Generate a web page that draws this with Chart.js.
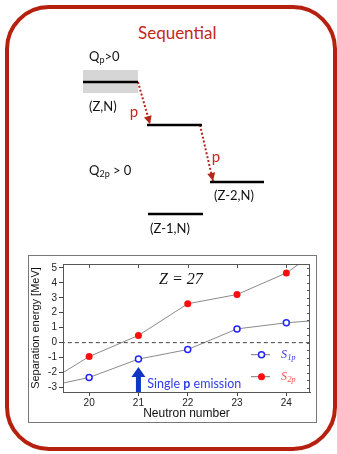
<!DOCTYPE html>
<html>
<head>
<meta charset="utf-8">
<script src="https://cdn.jsdelivr.net/npm/chart.js@4.4.0/dist/chart.umd.min.js"></script>
<style>
  body { margin: 0; background: #fff; width: 337px; height: 454px; overflow: hidden; position: relative; }
  #card { position: absolute; left: 5px; top: 5px; width: 332px; height: 446px; box-sizing: border-box;
          border: 4px solid #b5200f; border-radius: 44px; }
  #title { position: absolute; left: 138px; top: 21px; font: 17px Lato, sans-serif; color: #c0291c; line-height: 24px; }
  #diagram { position: absolute; left: 0; top: 0; }
  #plotBox { position: absolute; left: 28px; top: 255px; width: 287px; height: 166px; border: 1px solid #777; background: #fff; }
  #plotBox canvas { display: block; }
</style>
</head>
<body>
<div id="card"></div>
<div id="title">Sequential</div>
<canvas id="diagram" width="337" height="250"></canvas>
<div id="plotBox"><canvas id="sepChart" width="287" height="166"></canvas></div>

<script>
// --- separation energies of Z = 27 isotopes (MeV)
const neutronNumbers = [19, 20, 21, 22, 23, 24, 25];
const s1pValues = [-3.03, -2.33, -1.1, -0.46, 0.92, 1.33, 1.58];
const s2pValues = [-2.95, -0.93, 0.48, 2.6, 3.22, 4.66, 7.0];
const xTickValues = [20, 21, 22, 23, 24];
const yTickValues = [-3, -2, -1, 0, 1, 2, 3, 4, 5];

// --- schematic level scheme (arbitrary energy units)
const levelStarts = [83, 147, 210, 148];
const levelEnds = [138, 202, 264, 203];
const levelEnergies = [8.4, 6.25, 3.4, 1.8];
const bandRange = [7.85, 9.0];
const decayFrom = [[138, 8.4], [200, 6.25]];
const decayTo = [[150, 6.3], [213, 3.45]];

Chart.defaults.font.family = '"Liberation Sans", Arial, sans-serif';
Chart.defaults.animation = false;

// ---------------- top diagram ----------------
const diagramLabels = [
  { pre: "Q", sub: "p", post: ">0", x: 89, e: 9.65 },
  { pre: "(Z,N)", x: 89, e: 7.15 },
  { pre: "Q", sub: "2p", post: " > 0", x: 89, e: 3.95 },
  { pre: "(Z-2,N)", x: 214, e: 2.73 },
  { pre: "(Z-1,N)", x: 150, e: 1.05 },
];
const protonLabels = [[134, 6.9], [216, 4.65]];

const diagramPlugin = {
  id: "diagramText",
  afterDatasetsDraw(chart) {
    const { ctx, scales: { x, y } } = chart;
    ctx.save();
    // arrow heads
    ctx.fillStyle = "#b3261a";
    decayTo.forEach((to, i) => {
      const x0 = x.getPixelForValue(decayFrom[i][0]), y0 = y.getPixelForValue(decayFrom[i][1]);
      const x1 = x.getPixelForValue(to[0]), y1 = y.getPixelForValue(to[1]);
      const a = Math.atan2(y1 - y0, x1 - x0);
      ctx.beginPath();
      ctx.moveTo(x1, y1);
      ctx.lineTo(x1 - 8 * Math.cos(a) + 4 * Math.sin(a), y1 - 8 * Math.sin(a) - 4 * Math.cos(a));
      ctx.lineTo(x1 - 8 * Math.cos(a) - 4 * Math.sin(a), y1 - 8 * Math.sin(a) + 4 * Math.cos(a));
      ctx.closePath();
      ctx.fill();
    });
    // text labels
    ctx.textBaseline = "middle";
    ctx.textAlign = "left";
    ctx.fillStyle = "#111";
    diagramLabels.forEach(l => {
      let px = x.getPixelForValue(l.x);
      const py = y.getPixelForValue(l.e);
      ctx.font = "13px Lato, sans-serif";
      ctx.fillText(l.pre, px, py);
      px += ctx.measureText(l.pre).width;
      if (l.sub) {
        ctx.font = "9px Lato, sans-serif";
        ctx.fillText(l.sub, px, py + 3);
        px += ctx.measureText(l.sub).width;
        ctx.font = "13px Lato, sans-serif";
        ctx.fillText(l.post, px, py);
      }
    });
    ctx.fillStyle = "#c0291c";
    ctx.font = "15px Lato, sans-serif";
    ctx.textAlign = "center";
    protonLabels.forEach(p => ctx.fillText("p", x.getPixelForValue(p[0]), y.getPixelForValue(p[1])));
    ctx.restore();
  }
};

// datasets are drawn last-to-first, so the band goes at the end (underneath)
const diagramSets = [];
levelEnergies.forEach((e, i) => diagramSets.push({
  data: [{ x: levelStarts[i], y: e }, { x: levelEnds[i], y: e }],
  borderColor: "#000", borderWidth: 2.5
}));
decayFrom.forEach((f, i) => diagramSets.push({
  data: [{ x: f[0], y: f[1] }, { x: decayTo[i][0], y: decayTo[i][1] }],
  borderColor: "#b3261a", borderWidth: 2, borderDash: [2, 2]
}));
diagramSets.push(
  { data: [{ x: levelStarts[0], y: bandRange[1] }, { x: levelEnds[0], y: bandRange[1] }],
    borderWidth: 0, fill: "+1", backgroundColor: "#d6d6d6" },
  { data: [{ x: levelStarts[0], y: bandRange[0] }, { x: levelEnds[0], y: bandRange[0] }],
    borderWidth: 0 }
);

new Chart(document.getElementById("diagram"), {
  type: "scatter",
  data: { datasets: diagramSets.map(d => ({ showLine: true, pointRadius: 0, ...d })) },
  options: {
    responsive: false,
    layout: { padding: 0 },
    plugins: { legend: { display: false }, tooltip: { enabled: false },
               filler: { drawTime: "beforeDatasetsDraw" } },
    scales: {
      x: { type: "linear", min: 0, max: 337, display: false },
      y: { type: "linear", min: 0, max: 12.5, display: false }
    }
  },
  plugins: [diagramPlugin]
});

// ---------------- separation energy chart ----------------
const xMin = 19.47, xMax = 24.48, yMin = -3.3, yMax = 5.26;
const arrowTip = -1.63, arrowHeadBase = -2.29;

const s1pPoints = neutronNumbers.map((n, i) => ({ x: n, y: s1pValues[i] }));
const s2pPoints = neutronNumbers.map((n, i) => ({ x: n, y: s2pValues[i] }));

function drawSubLabel(ctx, px, py, sub, color) {
  ctx.fillStyle = color;
  ctx.font = "italic 12px 'Liberation Serif', serif";
  ctx.fillText("S", px, py);
  const w = ctx.measureText("S").width;
  ctx.font = "italic 8px 'Liberation Serif', serif";
  ctx.fillText(sub, px + w + 0.5, py + 3);
}

const framePlugin = {
  id: "frameExtras",
  afterDatasetsDraw(chart) {
    const { ctx, chartArea: ca, scales: { x, y } } = chart;
    ctx.save();
    // frame and inward ticks
    ctx.strokeStyle = "#555";
    ctx.lineWidth = 1;
    ctx.strokeRect(ca.left + 0.5, ca.top + 0.5, ca.right - ca.left - 1, ca.bottom - ca.top);
    ctx.beginPath();
    xTickValues.forEach(v => {
      const px = Math.round(x.getPixelForValue(v)) + 0.5;
      ctx.moveTo(px, ca.top); ctx.lineTo(px, ca.top + 4);
    });
    for (let v = -3; v <= 5; v += 0.5) {
      const py = Math.round(y.getPixelForValue(v)) + 0.5;
      ctx.moveTo(ca.right, py); ctx.lineTo(ca.right - 3, py);
    }
    ctx.stroke();

    // Z = 27
    ctx.fillStyle = "#111";
    ctx.font = "italic 16px 'Liberation Serif', serif";
    ctx.textBaseline = "alphabetic";
    ctx.fillText("Z = 27", ca.left + 96, ca.top + 20);

    // single-p arrow at N = 21
    const ax = x.getPixelForValue(21);
    const tip = y.getPixelForValue(arrowTip), base = y.getPixelForValue(arrowHeadBase);
    ctx.fillStyle = "#1236c4";
    ctx.beginPath();
    ctx.moveTo(ax, tip);
    ctx.lineTo(ax + 7, base);
    ctx.lineTo(ax + 2.5, base);
    ctx.lineTo(ax + 2.5, ca.bottom);
    ctx.lineTo(ax - 2.5, ca.bottom);
    ctx.lineTo(ax - 2.5, base);
    ctx.lineTo(ax - 7, base);
    ctx.closePath();
    ctx.fill();

    // "Single p emission"
    let tx = x.getPixelForValue(21.18);
    const ty = y.getPixelForValue(-2.75);
    ctx.fillStyle = "#2f3fe6";
    ctx.textBaseline = "middle";
    [["Single ", ""], ["p", "bold "], [" emission", ""]].forEach(([t, w]) => {
      ctx.font = w + "12.5px Lato, sans-serif";
      ctx.fillText(t, tx, ty);
      tx += ctx.measureText(t).width;
    });

    // legend (inside, lower right)
    const rows = [
      { yy: ca.bottom - 37.3, ds: chart.data.datasets[1], sub: "1p", color: "#3535ff" },
      { yy: ca.bottom - 15.3, ds: chart.data.datasets[2], sub: "2p", color: "#ff4a4a" },
    ];
    rows.forEach(r => {
      ctx.strokeStyle = "#777";
      ctx.beginPath();
      ctx.moveTo(ca.right - 59, r.yy); ctx.lineTo(ca.right - 40, r.yy);
      ctx.stroke();
      ctx.beginPath();
      ctx.arc(ca.right - 48.5, r.yy, r.ds.pointRadius, 0, Math.PI * 2);
      ctx.fillStyle = r.ds.pointBackgroundColor;
      ctx.fill();
      ctx.lineWidth = r.ds.pointBorderWidth;
      ctx.strokeStyle = r.ds.pointBorderColor;
      if (r.ds.pointBorderWidth) ctx.stroke();
      ctx.lineWidth = 1;
      drawSubLabel(ctx, ca.right - 29, r.yy, r.sub, r.color);
    });
    ctx.restore();
  }
};

new Chart(document.getElementById("sepChart"), {
  type: "line",
  data: {
    datasets: [
      { data: [{ x: 19, y: 0 }, { x: 25, y: 0 }], borderColor: "#444", borderWidth: 1,
        borderDash: [4, 3], pointRadius: 0 },
      { label: "S1p", data: s1pPoints, borderColor: "#8a8a8a", borderWidth: 1,
        pointRadius: 3, pointBorderWidth: 1.5, pointBorderColor: "#2323ff", pointBackgroundColor: "#fff" },
      { label: "S2p", data: s2pPoints, borderColor: "#8a8a8a", borderWidth: 1,
        pointRadius: 3.5, pointBorderWidth: 0, pointBorderColor: "#ff0d0d", pointBackgroundColor: "#ff0d0d" },
    ]
  },
  options: {
    responsive: false,
    layout: { padding: { top: 6, right: 6, left: 0, bottom: 0 } },
    plugins: { legend: { display: false }, tooltip: { enabled: false } },
    scales: {
      x: {
        type: "linear", min: xMin, max: xMax,
        afterFit: s => { s.height = 30; },
        afterBuildTicks: s => { s.ticks = xTickValues.map(v => ({ value: v })); },
        ticks: { font: { size: 10 }, color: "#222", padding: 1 },
        grid: { drawOnChartArea: false, tickLength: 4, color: "#444" },
        border: { color: "#555" },
        title: { display: true, text: "Neutron number", font: { size: 12 }, color: "#111",
                 padding: { top: 0, bottom: 1 } }
      },
      y: {
        type: "linear", min: yMin, max: yMax,
        afterFit: s => { s.width = 34; },
        afterBuildTicks: s => { s.ticks = yTickValues.map(v => ({ value: v })); },
        ticks: { font: { size: 10 }, color: "#222", padding: 2 },
        grid: { drawOnChartArea: false, tickLength: 4, color: "#444" },
        border: { color: "#555" },
        title: { display: true, text: "Separation energy [MeV]", font: { size: 11 }, color: "#111",
                 padding: { top: 0, bottom: 0 } }
      }
    }
  },
  plugins: [framePlugin]
});
</script>
</body>
</html>
